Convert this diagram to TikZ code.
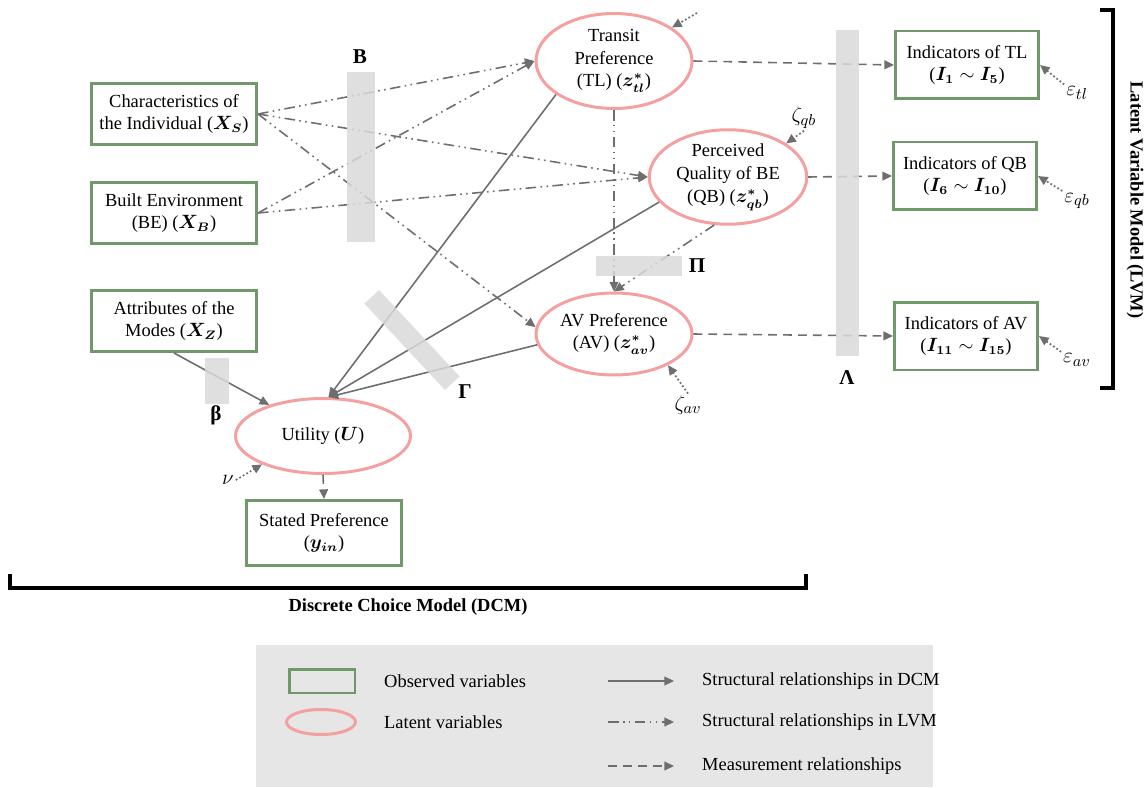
\documentclass[tikz,border=0pt]{standalone}
\usepackage{amsmath, amssymb}
\usepackage{fontspec}
\setmainfont{Liberation Serif}
\usepackage{tikz}
\usetikzlibrary{positioning, arrows.meta, shapes.geometric}

\definecolor{obsgreen}{RGB}{112,152,106}
\definecolor{latpink}{RGB}{244,160,160}
\definecolor{arrgray}{RGB}{110,110,110}
\definecolor{bargray}{RGB}{217,217,217}
\definecolor{leggray}{RGB}{230,230,230}

\tikzset{
  obs/.style={draw=obsgreen, line width=1.7pt, fill=white, align=center, inner sep=2pt},
  lat/.style={ellipse, draw=latpink, line width=1.7pt, fill=white, align=center, inner sep=0pt},
  conn/.style={draw=arrgray, line width=0.9pt, -{Triangle[length=5.5pt,width=5pt]}},
  dcm/.style={conn},
  lvm/.style={conn, dash pattern=on 6pt off 2.5pt on 0.9pt off 2.5pt on 0.9pt off 2.5pt},
  meas/.style={conn, dash pattern=on 5pt off 3.5pt},
  err/.style={conn, line width=1pt, dash pattern=on 1pt off 1.3pt},
  errlbl/.style={font=\fontsize{13}{15}\selectfont, inner sep=1pt},
  coef/.style={fill=bargray, fill opacity=0.85, draw=none, inner sep=0pt},
  coeflbl/.style={font=\fontsize{12}{14}\selectfont\bfseries, inner sep=1pt},
  brk/.style={line width=2pt, black},
}

\begin{document}
\begin{tikzpicture}[x=0.02cm, y=-0.02cm, every node/.style={font=\fontsize{10.5}{13}\selectfont}]
  \useasboundingbox (0,0) rectangle (1145,787);
  % observed variables
  \node[obs, minimum width=3.3cm, minimum height=1.22cm] (XS) at (174,114) {Characteristics of\\the Individual ($\boldsymbol{X_S}$)};
  \node[obs, minimum width=3.3cm, minimum height=1.22cm] (XB) at (174,213) {Built Environment\\(BE) ($\boldsymbol{X_B}$)};
  \node[obs, minimum width=3.3cm, minimum height=1.22cm] (XZ) at (174,321) {Attributes of the\\Modes ($\boldsymbol{X_Z}$)};
  \node[obs, minimum width=3.1cm, minimum height=1.3cm] (SP) at (324,533) {Stated Preference\\($\boldsymbol{y_{in}}$)};
  \node[obs, minimum width=2.86cm, minimum height=1.36cm] (IndTL) at (967,65) {Indicators of TL\\($\boldsymbol{I_1}\sim\boldsymbol{I_5}$)};
  \node[obs, minimum width=2.86cm, minimum height=1.36cm] (IndQB) at (965,176) {Indicators of QB\\($\boldsymbol{I_6}\sim\boldsymbol{I_{10}}$)};
  \node[obs, minimum width=2.86cm, minimum height=1.36cm] (IndAV) at (966,336) {Indicators of AV\\($\boldsymbol{I_{11}}\sim\boldsymbol{I_{15}}$)};
  % latent variables
  \node[lat, minimum width=3.12cm, minimum height=1.9cm] (TL) at (614,61) {Transit\\Preference\\(TL) ($\boldsymbol{z^{*}_{tl}}$)};
  \node[lat, minimum width=3.15cm, minimum height=1.62cm] (QB) at (728,177) {Perceived\\Quality of BE\\(QB) ($\boldsymbol{z^{*}_{qb}}$)};
  \node[lat, minimum width=3.12cm, minimum height=1.64cm] (AV) at (614,334) {AV Preference\\(AV) ($\boldsymbol{z^{*}_{av}}$)};
  \node[lat, minimum width=3.5cm, minimum height=1.5cm] (U) at (323,436) {Utility ($\boldsymbol{U}$)};

  % structural relationships in LVM
  \draw[lvm] (XS.east) -- (TL.west);
  \draw[lvm] (XS.east) -- (QB.west);
  \draw[lvm] (XS.east) -- (AV.175);
  \draw[lvm] (XB.east) -- (TL.west);
  \draw[lvm] (XB.east) -- (QB.west);
  \draw[lvm] (TL.south) -- (AV.north);
  \draw[lvm] (QB.254) -- (AV.north);
  % structural relationships in DCM
  \draw[dcm] (TL.210) -- (U.82);
  \draw[dcm] (QB.200) -- (U.82);
  \draw[dcm] (AV.188) -- (U.82);
  \draw[dcm] (XZ.south) -- (U.150);
  % measurement relationships
  \draw[meas] (TL.east) -- (IndTL.west);
  \draw[meas] (QB.east) -- (IndQB.west);
  \draw[meas] (AV.east) -- (IndAV.west);
  \draw[meas] (U.south) -- (SP.north);

  % error terms
  \coordinate (tlerr) at (697,13);
  \draw[err] (tlerr) -- (TL.30);
  \node[errlbl] (zqb) at (804,118) {$\zeta_{qb}$};
  \draw[err] (zqb.south) -- (QB.30);
  \node[errlbl] (zav) at (688,405) {$\zeta_{av}$};
  \draw[err] (zav.north) -- (AV.-30);
  \node[errlbl] (nu) at (228,480) {$\nu$};
  \draw[err] (nu.east) -- (U.205);
  \node[errlbl] (etl) at (1077,93) {$\varepsilon_{tl}$};
  \draw[err] (etl.north west) -- (IndTL.east);
  \node[errlbl] (eqb) at (1077,201) {$\varepsilon_{qb}$};
  \draw[err] (eqb.north west) -- (IndQB.east);
  \node[errlbl] (eav) at (1077,360) {$\varepsilon_{av}$};
  \draw[err] (eav.north west) -- (IndAV.east);

  % coefficient bars
  \node[coef, minimum width=0.56cm, minimum height=3.4cm] (Bbar) at (361,157) {};
  \node[coeflbl] (Blbl) at (360,57) {B};
  \node[coef, minimum width=0.48cm, minimum height=0.92cm] (betabar) at (217,381) {};
  \node[coeflbl] (betalbl) at (216,415) {β};
  \node[coef, minimum width=2.36cm, minimum height=0.4cm, rotate=-47] (Gbar) at (412,340) {};
  \node[coeflbl] (Glbl) at (465,392) {Γ};
  \node[coef, minimum width=1.72cm, minimum height=0.4cm] (Pbar) at (639,266) {};
  \node[coeflbl] (Plbl) at (697,266) {Π};
  \node[coef, minimum width=0.46cm, minimum height=6.52cm] (Lbar) at (847,193) {};
  \node[coeflbl] (Llbl) at (847,378) {Λ};

  % brackets
  \draw[brk] (1100,10) -- (1113,10) -- (1113,388) -- (1100,388);
  \node[rotate=-90, font=\fontsize{10.5}{13}\selectfont\bfseries] (lvmlbl) at (1135,200) {Latent Variable Model (LVM)};
  \draw[brk] (10,574) -- (10,588) -- (806,588) -- (806,574);
  \node[font=\fontsize{10.5}{13}\selectfont\bfseries] (dcmlbl) at (408,607) {Discrete Choice Model (DCM)};

  % legend
  \node[fill=leggray, minimum width=13.54cm, minimum height=2.84cm, inner sep=0pt] (legend) at (594.5,716) {};
  \node[obs, fill=none, minimum width=1.32cm, minimum height=0.48cm] (legobs) at (322,681) {};
  \node[anchor=west] (legobstxt) at (378,681) {Observed variables};
  \node[lat, fill=none, minimum width=1.38cm, minimum height=0.5cm] (leglat) at (321,722) {};
  \node[anchor=west] (leglattxt) at (378,722) {Latent variables};
  \coordinate (la1) at (608,681); \coordinate (lb1) at (674,681);
  \coordinate (la2) at (608,722); \coordinate (lb2) at (674,722);
  \coordinate (la3) at (608,766); \coordinate (lb3) at (674,766);
  \draw[dcm] (la1) -- (lb1);
  \draw[lvm] (la2) -- (lb2);
  \draw[meas] (la3) -- (lb3);
  \node[anchor=west] (legdcm) at (696,681) {Structural relationships in DCM};
  \node[anchor=west] (leglvm) at (696,722) {Structural relationships in LVM};
  \node[anchor=west] (legmeas) at (696,766) {Measurement relationships};
\end{tikzpicture}
\end{document}
